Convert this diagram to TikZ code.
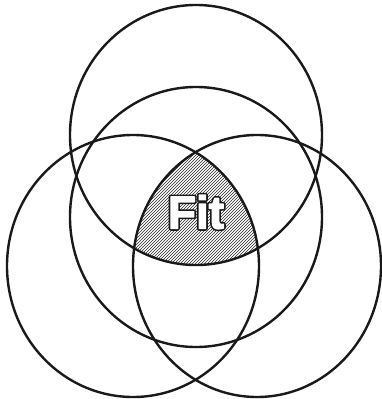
\documentclass[tikz,border=0pt]{standalone}
\usepackage{fontspec}
\setmainfont{Liberation Sans}
\usetikzlibrary{patterns}
\tikzset{
  ring/.style={draw=black!90, line width=2.4pt},
  hatch/.style={pattern=north east lines, pattern color=black!85},
  outlined/.style={font=\fontsize{46}{46}\selectfont\bfseries, inner sep=0pt},
}
\newcommand{\outlinetext}[1]{%
  \rlap{\special{pdf:literal direct q 1 Tr 4.6 w 1 j 0.1 G}#1\special{pdf:literal direct Q}}%
  \special{pdf:literal direct q 2 Tr 1.4 w 1 j 1 G 1 g}#1\special{pdf:literal direct Q}}
\def\topring{(196,135) ellipse [x radius=126, y radius=130]}
\def\midring{(196,217) ellipse [x radius=126, y radius=130]}
\def\leftring{(133,266) ellipse [x radius=126, y radius=131]}
\def\rightring{(257,266) ellipse [x radius=124, y radius=131]}
\begin{document}
\begin{tikzpicture}[x=1pt, y=-1pt]
\useasboundingbox (0,0) rectangle (381,399);
\begin{scope}
  \clip \topring;
  \clip \leftring;
  \fill[hatch] \rightring;
\end{scope}
\draw[ring] \topring;
\draw[ring] \midring;
\draw[ring] \leftring;
\draw[ring] \rightring;
\node (fit) [outlined] at (196,212) {\outlinetext{Fit}};
\end{tikzpicture}
\end{document}
